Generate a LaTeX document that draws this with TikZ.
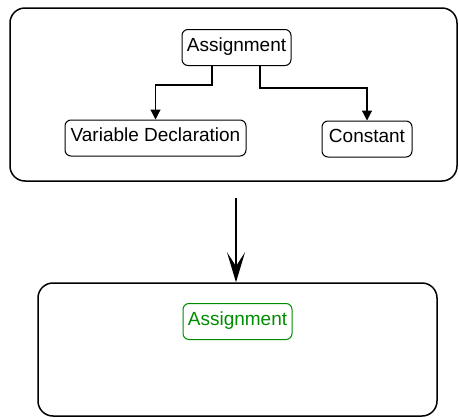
\documentclass[tikz,border=0pt]{standalone}
\usepackage{fontspec}
\setmainfont{Liberation Sans}
\usetikzlibrary{arrows.meta}
\definecolor{grn}{RGB}{0,140,0}
\begin{document}
\begin{tikzpicture}[x=1pt,y=-1pt,
 frame/.style={draw, line width=1.5pt, rounded corners=15pt, inner sep=0pt},
 box/.style={draw, line width=1pt, rounded corners=6pt, inner sep=0pt, minimum height=36pt, text height=10pt, text depth=2.4pt, font=\fontsize{19}{19}\selectfont},
 link/.style={line width=1.2pt, -{Triangle[length=10pt,width=10pt]}},
 bigarrow/.style={line width=1.2pt, -{Stealth[length=30pt,width=18pt,inset=14pt]}}]
\useasboundingbox (0,0) rectangle (459,418);
\node[frame, minimum width=447pt, minimum height=173pt] (top) at (233.5,94.5) {};
\node[frame, minimum width=399pt, minimum height=133pt] (bot) at (237.5,349.5) {};
\node[box, minimum width=109pt] (a) at (236.5,47.5) {Assignment};
\node[box, minimum width=181pt] (v) at (155.5,138) {Variable Declaration};
\node[box, minimum width=90pt] (c) at (367,139) {Constant};
\node[box, minimum width=109pt, draw=grn, text=grn] (g) at (237.5,321.5) {Assignment};
\draw[link] ([xshift=-24.5pt]a.south) -- ++(0,19) -| (v.north);
\draw[link] ([xshift=23.5pt]a.south) -- ++(0,22) -| (c.north);
\coordinate (s) at (236,198);
\draw[bigarrow] (s) -- (s |- bot.north);
\end{tikzpicture}
\end{document}
